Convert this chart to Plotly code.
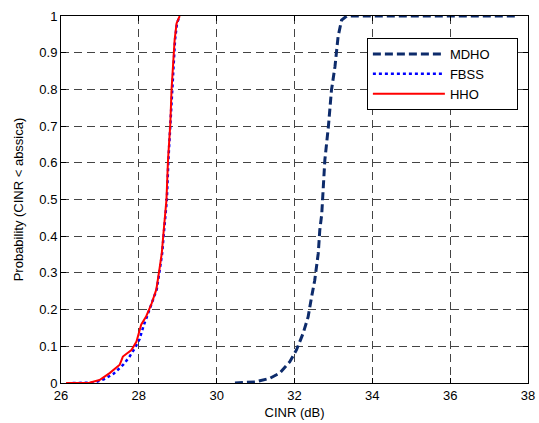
import plotly.graph_objects as go

# HHO (red solid)
hho_x = [26.13, 26.5, 26.73, 26.99, 27.25, 27.51, 27.59, 27.81, 27.94, 28.06, 28.19, 28.32, 28.45,
         28.53, 28.59, 28.64, 28.68, 28.71, 28.75, 28.81, 28.84, 28.88, 28.92, 28.97, 29.05]
hho_y = [0.0, 0.0, 0.001, 0.008, 0.027, 0.05, 0.072, 0.09, 0.113, 0.159, 0.182, 0.214, 0.255,
         0.31, 0.354, 0.417, 0.46, 0.499, 0.608, 0.708, 0.798, 0.862, 0.935, 0.98, 1.0]

# FBSS (blue dotted)
fbss_x = [26.3, 26.6, 26.85, 27.1, 27.35, 27.6, 27.75, 27.9, 28.02, 28.12, 28.22, 28.34, 28.46,
          28.54, 28.6, 28.65, 28.69, 28.72, 28.76, 28.81, 28.85, 28.89, 28.93, 28.98, 29.05]
fbss_y = [0.0, 0.0, 0.001, 0.01, 0.025, 0.05, 0.07, 0.095, 0.12, 0.155, 0.185, 0.215, 0.255,
          0.31, 0.354, 0.417, 0.46, 0.499, 0.608, 0.708, 0.798, 0.862, 0.935, 0.98, 1.0]

# MDHO (navy dashed)
mdho_x = [30.47, 31.0, 31.37, 31.62, 31.88, 32.05, 32.22, 32.35, 32.44, 32.52, 32.61, 32.65, 32.7,
          32.78, 32.87, 32.95, 33.04, 33.12, 33.21, 33.34, 37.75]
mdho_y = [0.0, 0.003, 0.013, 0.027, 0.058, 0.09, 0.135, 0.18, 0.235, 0.28, 0.353, 0.417, 0.46,
          0.608, 0.698, 0.798, 0.862, 0.944, 0.989, 1.0, 1.0]

x_ticks = [26, 28, 30, 32, 34, 36, 38]
y_ticks = [0, 0.1, 0.2, 0.3, 0.4, 0.5, 0.6, 0.7, 0.8, 0.9, 1]
y_tick_text = ["0", "0.1", "0.2", "0.3", "0.4", "0.5", "0.6", "0.7", "0.8", "0.9", "1"]

FONT = "Liberation Sans, Arial"
PAD = "\u00a0" * 6

fig = go.Figure()
fig.add_trace(go.Scatter(x=mdho_x, y=mdho_y, mode="lines", name="MDHO" + PAD,
                         line=dict(color="#0d2b6b", width=3, dash="8px,4px")))
fig.add_trace(go.Scatter(x=fbss_x, y=fbss_y, mode="lines", name="FBSS" + PAD,
                         line=dict(color="#0000ff", width=2.5, dash="dot")))
fig.add_trace(go.Scatter(x=hho_x, y=hho_y, mode="lines", name="HHO" + PAD,
                         line=dict(color="#ff0000", width=2)))

axis_common = dict(
    showline=True, linecolor="black", linewidth=1, mirror="allticks",
    ticks="inside", ticklen=5, tickcolor="black",
    showgrid=True, gridcolor="#444444", gridwidth=1, griddash="8px,5px",
    zeroline=False, automargin=False,
    tickfont=dict(family=FONT, size=13, color="black"),
)

fig.update_xaxes(range=[26, 38], tickvals=x_ticks, **axis_common,
                 title=dict(text="CINR (dB)", font=dict(family=FONT, size=13, color="black"), standoff=6))
fig.update_yaxes(range=[0, 1], tickvals=y_ticks, ticktext=y_tick_text, **axis_common,
                 title=dict(text="Probability (CINR < abssica)", font=dict(family=FONT, size=13, color="black"), standoff=12))

fig.update_layout(
    width=539, height=423,
    margin=dict(l=61, r=11, t=16, b=40, autoexpand=False),
    paper_bgcolor="white", plot_bgcolor="white",
    showlegend=True,
    legend=dict(x=0.655, y=0.94, xanchor="left", yanchor="top",
                bgcolor="white", bordercolor="black", borderwidth=1,
                font=dict(family=FONT, size=13, color="black"),
                itemwidth=72, tracegroupgap=0),
)

fig.write_html("out.html")
